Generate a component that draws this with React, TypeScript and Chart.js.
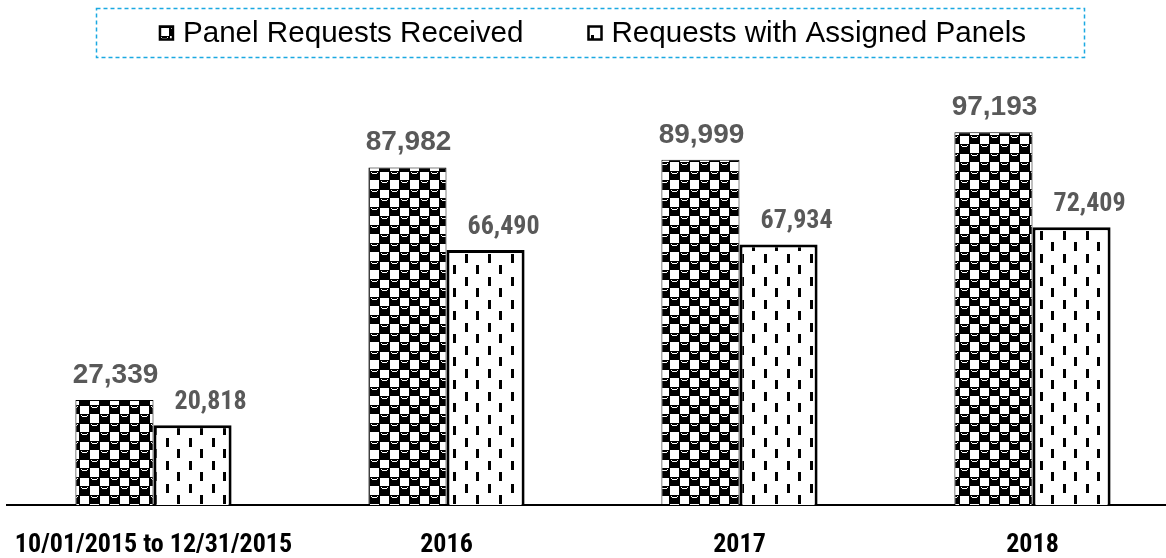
import React, { useEffect, useRef } from "react";
import { Chart, registerables } from "chart.js";

Chart.register(...registerables);

const categories = ["10/01/2015 to 12/31/2015", "2016", "2017", "2018"];
const seriesNames = ["Panel Requests Received", "Requests with Assigned Panels"];
const received = [27339, 87982, 89999, 97193];
const assigned = [20818, 66490, 67934, 72409];

const NARROW = "Roboto, sans-serif";
const REGULAR = '"Liberation Sans", Arial, sans-serif';

function makeSpherePattern(): CanvasPattern | string {
  const c = document.createElement("canvas");
  c.width = 20;
  c.height = 18;
  const g = c.getContext("2d");
  if (!g) return "#000";
  g.fillStyle = "#fff";
  g.fillRect(0, 0, 20, 18);
  const cell = (x: number, y: number) => {
    g.fillStyle = "#000";
    g.fillRect(x, y, 11, 10);
    g.fillStyle = "#fff";
    g.fillRect(x + 3, y + 2, 5, 1);
    g.fillRect(x + 2, y + 1, 1, 1);
    g.fillRect(x + 8, y + 1, 1, 1);
  };
  cell(-1, 0);
  cell(9, 9);
  cell(19, 0);
  const p = g.createPattern(c, "repeat");
  return p || "#000";
}

function makeDashPattern(): CanvasPattern | string {
  const c = document.createElement("canvas");
  c.width = 23;
  c.height = 23;
  const g = c.getContext("2d");
  if (!g) return "#fff";
  g.fillStyle = "#fff";
  g.fillRect(0, 0, 23, 23);
  g.fillStyle = "#000";
  g.fillRect(5, 1, 3, 9);
  g.fillRect(16, 12, 3, 9);
  const p = g.createPattern(c, "repeat");
  return p || "#fff";
}

const fmt = (v: number) => v.toLocaleString("en-US");

export default function App() {
  const ref = useRef<HTMLCanvasElement | null>(null);

  useEffect(() => {
    document.body.style.margin = "0";
    const canvas = ref.current;
    if (!canvas) return;
    const pat1 = makeSpherePattern();
    const pat2 = makeDashPattern();

    const labelPlugin = {
      id: "barLabels",
      afterDatasetsDraw(chart: any) {
        const ctx = chart.ctx;
        ctx.save();
        ctx.textAlign = "center";
        ctx.textBaseline = "alphabetic";
        ctx.fillStyle = "#595959";
        chart.data.datasets.forEach((ds: any, di: number) => {
          const meta = chart.getDatasetMeta(di);
          meta.data.forEach((bar: any, i: number) => {
            const v = ds.data[i];
            if (di === 0) {
              ctx.font = `bold 28px ${REGULAR}`;
              ctx.fillText(fmt(v), bar.x + 1, bar.y - 17);
            } else {
              ctx.font = `bold condensed 26px ${NARROW}`;
              ctx.fillText(fmt(v), bar.x + 18, bar.y - 16);
            }
          });
        });
        ctx.restore();
      },
    };

    const legendPlugin = {
      id: "customLegend",
      afterDraw(chart: any) {
        const ctx = chart.ctx;
        ctx.save();
        ctx.strokeStyle = "#1BA9E1";
        ctx.lineWidth = 1.5;
        ctx.setLineDash([4, 3]);
        ctx.strokeRect(96.5, 8.5, 988, 49);
        ctx.setLineDash([]);
        ctx.font = `29.6px ${REGULAR}`;
        const w1 = ctx.measureText(seriesNames[0]).width;
        const w2 = ctx.measureText(seriesNames[1]).width;
        const mk = 13, gap = 10, itemGap = 65;
        const total = mk + gap + w1 + itemGap + mk + gap + w2;
        let x = 593 - total / 2;
        const cy = 33;
        const pats = [pat1, pat2];
        [w1, w2].forEach((w, i) => {
          ctx.fillStyle = pats[i] as any;
          ctx.fillRect(x, cy - mk / 2, mk, mk);
          ctx.strokeStyle = "#000";
          ctx.lineWidth = 2.5;
          ctx.strokeRect(x, cy - mk / 2, mk, mk);
          ctx.fillStyle = "#000";
          ctx.textBaseline = "middle";
          ctx.textAlign = "left";
          ctx.fillText(seriesNames[i], x + mk + gap, cy + 1);
          x += mk + gap + w + itemGap;
        });
        ctx.restore();
      },
    };

    const chart = new Chart(canvas, {
      type: "bar",
      data: {
        labels: categories,
        datasets: [
          {
            label: seriesNames[0],
            data: received,
            backgroundColor: pat1 as any,
            borderColor: "#000",
            borderWidth: 1,
            categoryPercentage: 0.533,
            barPercentage: 1,
          },
          {
            label: seriesNames[1],
            data: assigned,
            backgroundColor: pat2 as any,
            borderColor: "#000",
            borderWidth: { top: 3, left: 3, right: 3, bottom: 0 },
            categoryPercentage: 0.533,
            barPercentage: 1,
          },
        ],
      },
      options: {
        responsive: false,
        animation: false,
        devicePixelRatio: 1,
        layout: { padding: { left: 7, right: 1, top: 83, bottom: -27 } },
        plugins: {
          tooltip: { enabled: false },
          legend: { display: false },
        },
        scales: {
          x: {
            grid: { display: false, drawTicks: false },
            border: { display: true, color: "#000", width: 2 },
            ticks: {
              color: "#000",
              padding: 5,
              font: { family: NARROW, size: 26, weight: "bold condensed" as any, lineHeight: 70 / 26 },
              maxRotation: 0,
              autoSkip: false,
            },
          },
          y: {
            display: false,
            min: 0,
            max: 110000,
          },
        },
      },
      plugins: [labelPlugin, legendPlugin],
    });
    return () => chart.destroy();
  }, []);

  return (
    <div style={{ position: "relative", width: 1166, height: 558, overflow: "hidden" }}>
      <canvas ref={ref} width={1180} height={558} style={{ display: "block", width: 1180, height: 558 }} />
    </div>
  );
}
